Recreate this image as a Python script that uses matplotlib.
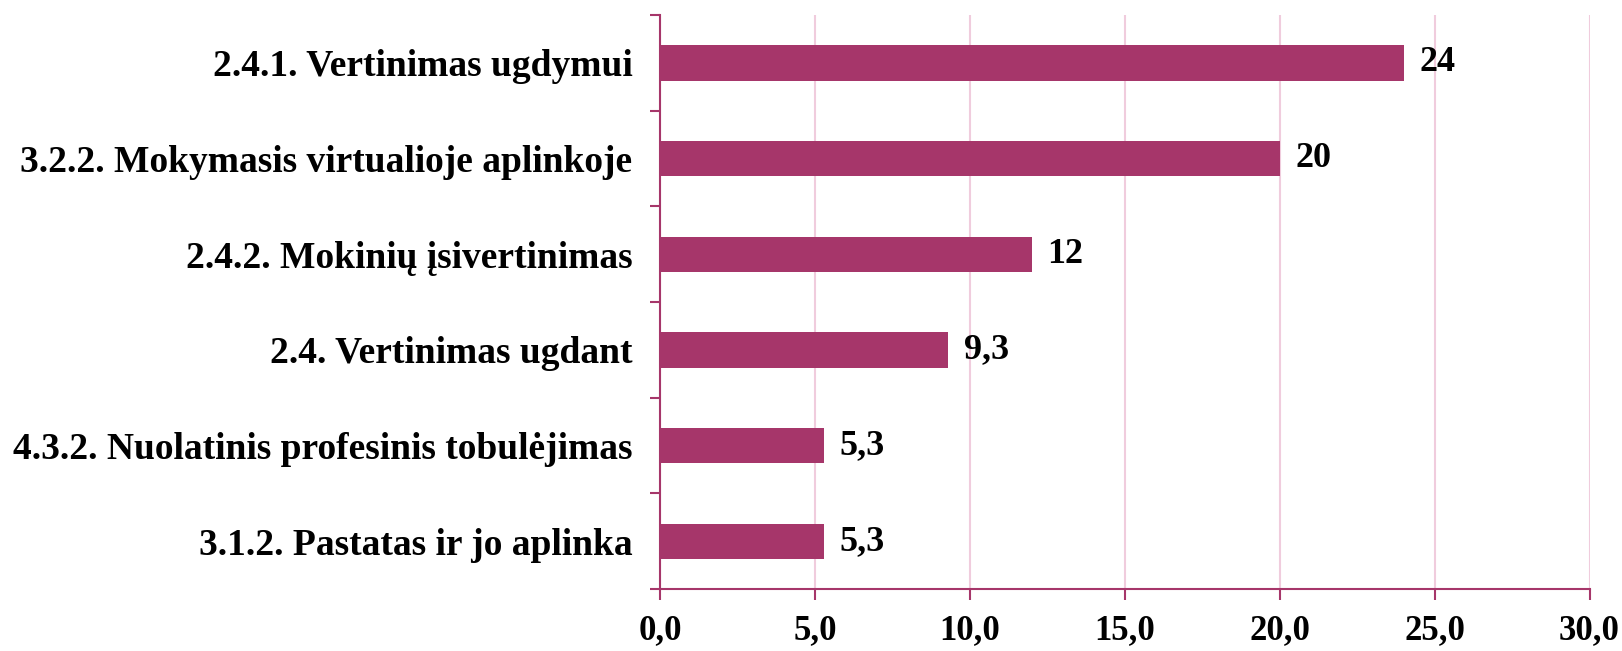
import matplotlib.pyplot as plt
import numpy as np

categories = [
    "2.4.1. Vertinimas ugdymui",
    "3.2.2. Mokymasis virtualioje aplinkoje",
    "2.4.2. Mokinių įsivertinimas",
    "2.4. Vertinimas ugdant",
    "4.3.2. Nuolatinis profesinis tobulėjimas",
    "3.1.2. Pastatas ir jo aplinka",
]
values = [24, 20, 12, 9.3, 5.3, 5.3]
value_labels = ["24", "20", "12", "9,3", "5,3", "5,3"]
x_ticks = [0, 5, 10, 15, 20, 25, 30]

bar_color = "#A6366A"
axis_color = "#A6366A"
grid_color = "#F0CCDD"

plt.rcParams["font.family"] = ["Liberation Serif", "DejaVu Serif"]
plt.rcParams["font.weight"] = "bold"

fig = plt.figure(figsize=(16.22, 6.51), dpi=100)
ax = fig.add_axes([0.407, 0.095, 0.573, 0.882])

n = len(categories)
y = np.arange(n)[::-1]
ax.barh(y, values, height=0.37, color=bar_color, zorder=3)

for yi, v, lab in zip(y, values, value_labels):
    ax.text(v + 0.5, yi, lab, va="center", ha="left", fontsize=26,
            fontweight="bold", color="black")

ax.set_xlim(0, 30)
ax.set_ylim(-0.5, n - 0.5)
ax.set_xticks(x_ticks)
ax.set_xticklabels([f"{t:.1f}".replace(".", ",") for t in x_ticks],
                   fontsize=25, fontweight="bold")
ax.set_yticks(y)
ax.set_yticklabels(categories, fontsize=27, fontweight="bold")
ax.tick_params(axis="y", length=0, pad=20)
ax.set_yticks(np.arange(-0.5, n, 1.0), minor=True)
ax.tick_params(axis="y", which="minor", length=7, width=1.5, color=axis_color)
ax.tick_params(axis="x", length=8, width=1.5, color=axis_color, pad=10)

ax.grid(axis="x", color=grid_color, linewidth=1.5, zorder=0)
for side in ("top", "right"):
    ax.spines[side].set_visible(False)
for side in ("left", "bottom"):
    ax.spines[side].set_color(axis_color)
    ax.spines[side].set_linewidth(1.5)

fig.savefig("out.png", dpi=100)
